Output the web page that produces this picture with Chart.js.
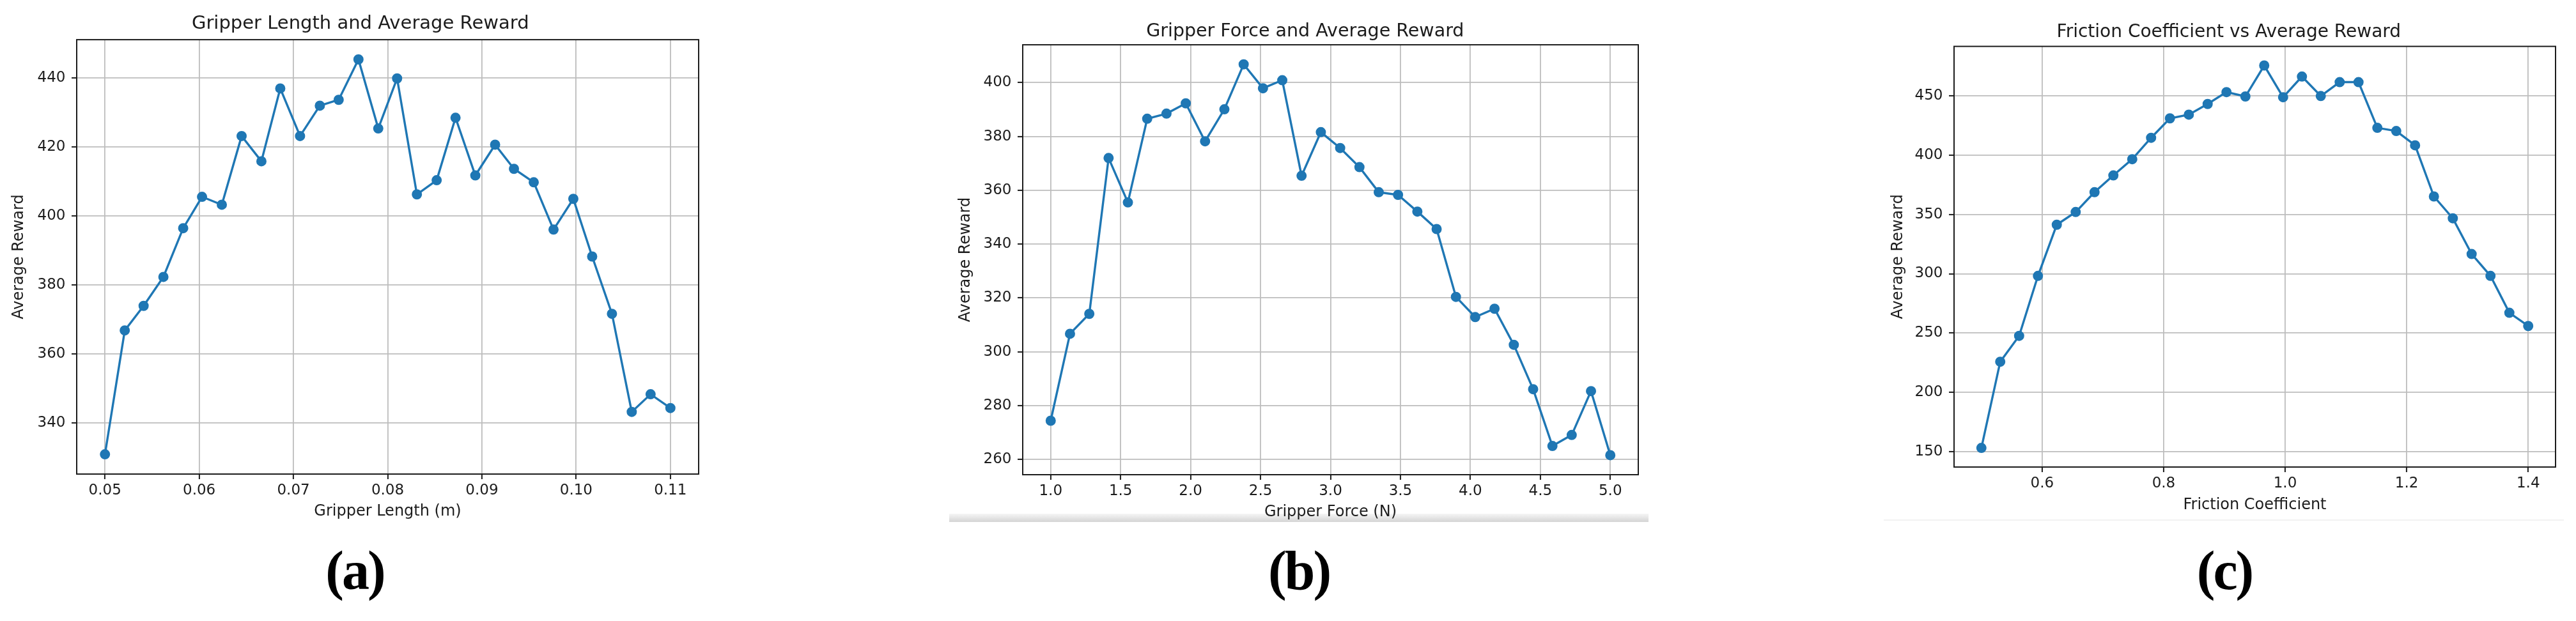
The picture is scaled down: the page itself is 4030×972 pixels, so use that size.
<!DOCTYPE html>
<html>
<head>
<meta charset="utf-8">
<script src="https://cdn.jsdelivr.net/npm/chart.js@4.4.1/dist/chart.umd.min.js"></script>
<style>
  body { margin: 0; width: 4030px; height: 972px; background: #fff; position: relative; overflow: hidden; }
  canvas { position: absolute; top: 0; z-index: 1; }
  .tag { position: absolute; width: 200px; text-align: center; font: bold 86px "Liberation Serif", serif; line-height: 1; letter-spacing: -3px; color: #000; z-index: 2; }
  .shade { position: absolute; z-index: 0; }
</style>
</head>
<body>
<div class="shade" style="left:1485px;top:804px;width:1094px;height:13px;background:linear-gradient(to bottom,#f6f6f6,#d4d4d4);"></div>
<div class="shade" style="left:2947px;top:813px;width:1064px;height:2px;background:#f2f2f2;"></div>

<canvas id="chartA" width="1113" height="832" style="left:-0.5px"></canvas>
<canvas id="chartB" width="1103" height="833" style="left:1480px"></canvas>
<canvas id="chartC" width="1081" height="821" style="left:2937px"></canvas>

<div class="tag" style="left:455px;top:850px">(a)</div>
<div class="tag" style="left:1932px;top:850px">(b)</div>
<div class="tag" style="left:3380px;top:850px">(c)</div>

<script>
// (a) gripper length sweep
var lengthX = [0.05, 0.0521, 0.0541, 0.0562, 0.0583, 0.0603, 0.0624, 0.0645, 0.0666, 0.0686,
  0.0707, 0.0728, 0.0748, 0.0769, 0.0790, 0.0810, 0.0831, 0.0852, 0.0872, 0.0893,
  0.0914, 0.0934, 0.0955, 0.0976, 0.0997, 0.1017, 0.1038, 0.1059, 0.1079, 0.11];
var lengthReward = [330.9, 366.8, 373.9, 382.3, 396.4, 405.5, 403.2, 423.1, 415.8, 436.9,
  423.1, 431.9, 433.6, 445.3, 425.3, 439.8, 406.2, 410.3, 428.4, 411.7,
  420.6, 413.6, 409.7, 396.0, 404.9, 388.2, 371.6, 343.2, 348.3, 344.3];
var lengthTicksX = [0.05, 0.06, 0.07, 0.08, 0.09, 0.10, 0.11];
var lengthLabelsX = ['0.05', '0.06', '0.07', '0.08', '0.09', '0.10', '0.11'];
var lengthTicksY = [340, 360, 380, 400, 420, 440];

// (b) gripper force sweep
var forceX = [1.0, 1.1379, 1.2759, 1.4138, 1.5517, 1.6897, 1.8276, 1.9655, 2.1034, 2.2414,
  2.3793, 2.5172, 2.6552, 2.7931, 2.9310, 3.0690, 3.2069, 3.3448, 3.4828, 3.6207,
  3.7586, 3.8966, 4.0345, 4.1724, 4.3103, 4.4483, 4.5862, 4.7241, 4.8621, 5.0];
var forceReward = [274.4, 306.7, 314.1, 372.0, 355.5, 386.6, 388.5, 392.3, 378.2, 390.1,
  406.8, 397.9, 400.9, 365.4, 381.6, 375.7, 368.6, 359.3, 358.3, 352.1,
  345.6, 320.4, 312.9, 316.0, 302.6, 286.1, 265.0, 269.1, 285.4, 261.6];
var forceTicksX = [1.0, 1.5, 2.0, 2.5, 3.0, 3.5, 4.0, 4.5, 5.0];
var forceLabelsX = ['1.0', '1.5', '2.0', '2.5', '3.0', '3.5', '4.0', '4.5', '5.0'];
var forceTicksY = [260, 280, 300, 320, 340, 360, 380, 400];

// (c) friction coefficient sweep
var frictionX = [0.5, 0.5310, 0.5621, 0.5931, 0.6241, 0.6552, 0.6862, 0.7172, 0.7483, 0.7793,
  0.8103, 0.8414, 0.8724, 0.9034, 0.9345, 0.9655, 0.9966, 1.0276, 1.0586, 1.0897,
  1.1207, 1.1517, 1.1828, 1.2138, 1.2448, 1.2759, 1.3069, 1.3379, 1.3690, 1.4];
var frictionReward = [153.3, 225.9, 247.7, 298.2, 341.3, 352.0, 368.7, 382.8, 396.5, 414.5,
  430.9, 434.0, 443.0, 453.0, 449.3, 475.4, 448.7, 466.1, 449.7, 461.4,
  461.4, 422.9, 420.2, 408.2, 365.1, 346.7, 316.6, 298.2, 267.1, 256.0];
var frictionTicksX = [0.6, 0.8, 1.0, 1.2, 1.4];
var frictionLabelsX = ['0.6', '0.8', '1.0', '1.2', '1.4'];
var frictionTicksY = [150, 200, 250, 300, 350, 400, 450];

var BLUE = '#1f77b4';
var INK = '#1c1c1c';

// axes box + title centred over the whole figure (like matplotlib)
var framePlugin = {
  id: 'frame',
  afterDraw: function(chart, args, opts) {
    var a = chart.chartArea, ctx = chart.ctx;
    ctx.save();
    ctx.strokeStyle = INK;
    ctx.lineWidth = 2;
    ctx.strokeRect(a.left, a.top, a.right - a.left, a.bottom - a.top);
    ctx.fillStyle = INK;
    ctx.font = opts.size + 'px "DejaVu Sans"';
    ctx.textAlign = 'center';
    ctx.textBaseline = 'alphabetic';
    ctx.fillText(opts.text, (a.left + a.right) / 2 + opts.dx, a.top - opts.gap);
    ctx.restore();
  }
};

function font(size) {
  return { family: 'DejaVu Sans', size: size };
}

function makeChart(id, xs, ys, p) {
  var lo = Math.min.apply(null, ys), hi = Math.max.apply(null, ys);
  var xlo = xs[0], xhi = xs[xs.length - 1];
  var ym = (hi - lo) * 0.05, xm = (xhi - xlo) * 0.05;
  var grid = { color: '#bdbdbd', lineWidth: 1.8, tickColor: INK, tickWidth: 2, tickLength: 8 };

  return new Chart(document.getElementById(id), {
    type: 'scatter',
    data: {
      datasets: [{
        data: xs.map(function(x, i) { return { x: x, y: ys[i] }; }),
        showLine: true,
        borderColor: BLUE,
        backgroundColor: BLUE,
        borderWidth: 3.4,
        pointRadius: 7,
        pointHoverRadius: 7,
        pointBorderWidth: 2,
        pointBorderColor: BLUE,
        pointBackgroundColor: BLUE,
        clip: false
      }]
    },
    options: {
      responsive: false,
      animation: false,
      layout: { padding: { top: p.top, right: 20, left: 0, bottom: 0 } },
      plugins: {
        legend: { display: false },
        tooltip: { enabled: false },
        frame: { text: p.title, size: p.titleSize, dx: p.titleDx, gap: p.titleGap }
      },
      scales: {
        x: {
          type: 'linear',
          min: xlo - xm,
          max: xhi + xm,
          afterFit: function(s) { s.height = 90; },
          afterBuildTicks: function(s) { s.ticks = p.xTicks.map(function(v) { return { value: v }; }); },
          ticks: {
            font: font(23), color: INK, padding: 4.5, maxRotation: 0, autoSkip: false,
            callback: function(v, i) { return p.xLabels[i]; }
          },
          grid: grid,
          border: { display: false },
          title: { display: true, text: p.xTitle, font: font(24), color: INK, padding: { top: 0, bottom: p.xTitlePad } }
        },
        y: {
          type: 'linear',
          min: lo - ym,
          max: hi + ym,
          afterFit: function(s) { s.width = 120; },
          afterBuildTicks: function(s) { s.ticks = p.yTicks.map(function(v) { return { value: v }; }); },
          ticks: { font: font(23), color: INK, padding: 9.5, autoSkip: false },
          grid: grid,
          border: { display: false },
          title: { display: true, text: 'Average Reward', font: font(24), color: INK, padding: { top: p.yTitlePad, bottom: 0 } }
        }
      }
    },
    plugins: [framePlugin]
  });
}

makeChart('chartA', lengthX, lengthReward, {
  top: 62.1, title: 'Gripper Length and Average Reward', titleSize: 29, titleDx: -42.75, titleGap: 17,
  xTicks: lengthTicksX, xLabels: lengthLabelsX, yTicks: lengthTicksY,
  xTitle: 'Gripper Length (m)', xTitlePad: 16.9, yTitlePad: 15.1
});

makeChart('chartB', forceX, forceReward, {
  top: 70.1, title: 'Gripper Force and Average Reward', titleSize: 28.5, titleDx: -39.7, titleGap: 13.5,
  xTicks: forceTicksX, xLabels: forceLabelsX, yTicks: forceTicksY,
  xTitle: 'Gripper Force (N)', xTitlePad: 16.9, yTitlePad: 16.6
});

makeChart('chartC', frictionX, frictionReward, {
  top: 72.6, title: 'Friction Coefficient vs Average Reward', titleSize: 28, titleDx: -40.65, titleGap: 14.5,
  xTicks: frictionTicksX, xLabels: frictionLabelsX, yTicks: frictionTicksY,
  xTitle: 'Friction Coefficient', xTitlePad: 15.5, yTitlePad: 18
});
</script>
</body>
</html>
